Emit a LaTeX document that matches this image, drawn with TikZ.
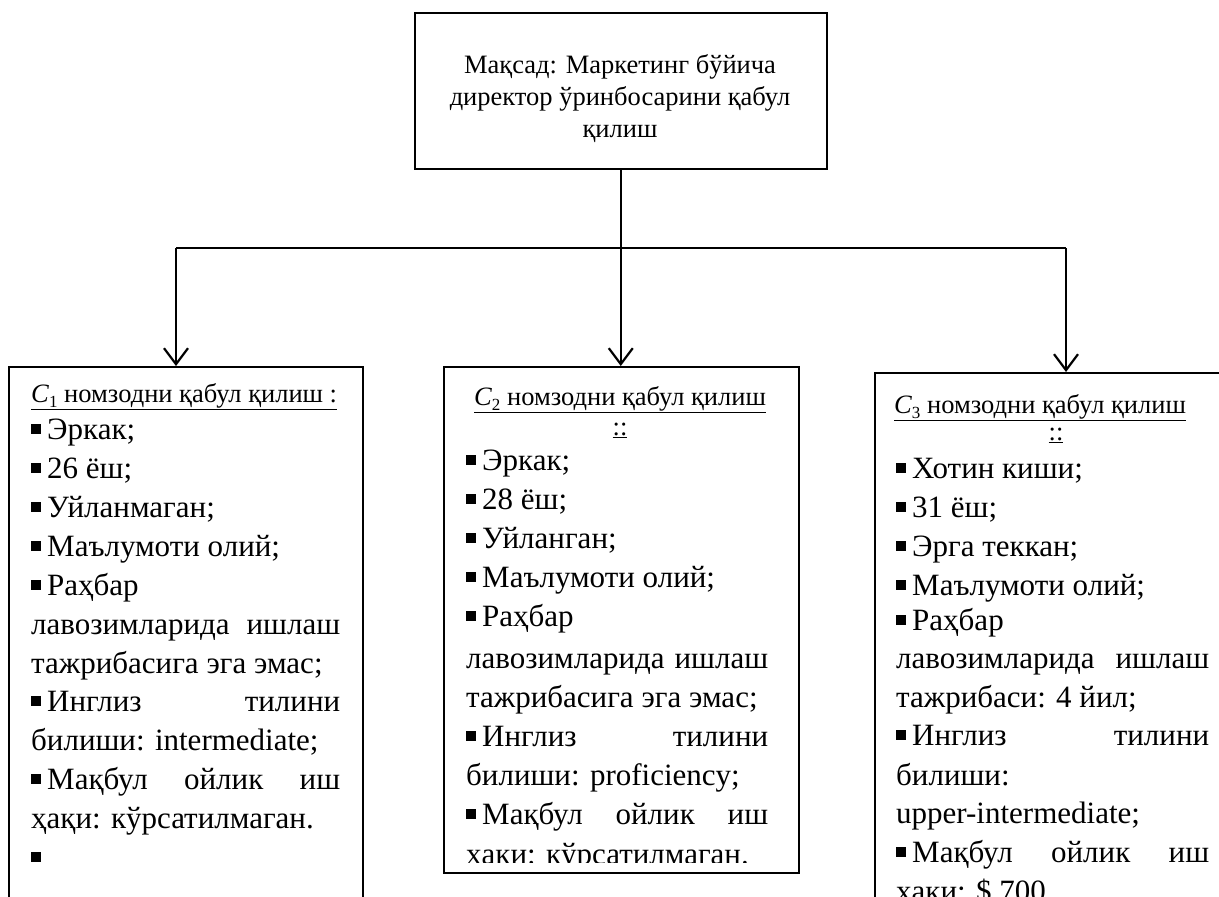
\documentclass[tikz,border=0pt]{standalone}
\usepackage{fontspec}
\setmainfont{Liberation Serif}
\usetikzlibrary{arrows.meta}
\newcommand{\bul}{\raisebox{5.5pt}{\rule{10pt}{10pt}}\hspace{6pt}}
\newcommand{\cand}[1]{\textit{C}\raisebox{-5pt}{\fontsize{17}{17}\selectfont #1}}
\begin{document}
\begin{tikzpicture}[x=1pt,y=-1pt,
  box/.style={draw, line width=2pt, inner sep=0, anchor=north west},
  goalbox/.style={draw, line width=1.5pt, inner sep=0, anchor=north west},
  gl/.style={anchor=base, inner sep=0, font=\fontsize{26.5}{32}\selectfont},
  ln/.style={anchor=base west, inner sep=0, font=\fontsize{31}{39}\selectfont},
  hd/.style={anchor=base, inner sep=0, font=\fontsize{26.5}{30}\selectfont},
  conn/.style={line width=2.5pt},
  hline/.style={line width=1.2pt},
  arr/.style={conn, -{Straight Barb[length=16pt,width=24pt,line width=2.2pt]}}]
\useasboundingbox (0,0) rectangle (1219,897);

% goal box
\node[goalbox, minimum width=412pt, minimum height=156pt] (goal) at (414,12) {};
\node[gl] (g1) at (620,73) {Мақсад: Маркетинг бўйича};
\node[gl] (g2) at (620,105) {директор ўринбосарини қабул};
\node[gl] (g3) at (620,137) {қилиш};

% candidate boxes
\node[box, minimum width=354pt, minimum height=580pt] (c1) at (8,366) {};
\node[box, minimum width=355pt, minimum height=506pt] (c2) at (443,366) {};
\node[box, minimum width=355pt, minimum height=580pt] (c3) at (874,372) {};

% connectors
\coordinate (h1) at (176,248);
\coordinate (h3) at (1066,248);
\draw[hline] (h1) -- (h3);
\draw[arr] (goal.south) -- (goal.south |- c2.north);
\draw[arr] (h1) -- (h1 |- c1.north);
\draw[arr] (h3) -- (h3 |- c3.north);

% box 1 text
\node[anchor=base west, inner sep=0, font=\fontsize{26.5}{30}\selectfont] (h1t) at (31,402) {\underline{\cand{1} номзодни қабул қилиш :}};
\node[ln] (a1) at (31,439) {\bul Эркак;};
\node[ln] (a2) at (31,478) {\bul 26 ёш;};
\node[ln] (a3) at (31,517) {\bul Уйланмаган;};
\node[ln] (a4) at (31,556) {\bul Маълумоти олий;};
\node[ln] (a5) at (31,595) {\bul Раҳбар};
\node[ln] (a6) at (31,634) {\hbox to 309pt{лавозимларида\hfill ишлаш}};
\node[ln] (a7) at (31,673) {тажрибасига эга эмас;};
\node[ln] (a8) at (31,711) {\hbox to 309pt{\bul Инглиз\hfill тилини}};
\node[ln] (a9) at (31,750) {билиши: intermediate;};
\node[ln] (a10) at (31,789) {\hbox to 309pt{\bul Мақбул\hfill ойлик\hfill иш}};
\node[ln] (a11) at (31,828) {ҳақи: кўрсатилмаган.};
\node[ln] (a12) at (31,867) {\bul};

% box 2 text
\node[hd] (h2t) at (620,405) {\underline{\cand{2} номзодни қабул қилиш}};
\node[hd] (h2c) at (620,435) {\underline{::}};
\begin{scope}
\clip (443,366) rectangle (798,862);
\node[ln] (b1) at (466,470) {\bul Эркак;};
\node[ln] (b2) at (466,509) {\bul 28 ёш;};
\node[ln] (b3) at (466,548) {\bul Уйланган;};
\node[ln] (b4) at (466,587) {\bul Маълумоти олий;};
\node[ln] (b5) at (466,626) {\bul Раҳбар};
\node[ln] (b6) at (466,668) {\hbox to 302pt{лавозимларида\hfill ишлаш}};
\node[ln] (b7) at (466,707) {тажрибасига эга эмас;};
\node[ln] (b8) at (466,746) {\hbox to 302pt{\bul Инглиз\hfill тилини}};
\node[ln] (b9) at (466,785) {билиши: proficiency;};
\node[ln] (b10) at (466,824) {\hbox to 302pt{\bul Мақбул\hfill ойлик\hfill иш}};
\node[ln] (b11) at (466,864) {ҳақи: кўрсатилмаган.};
\end{scope}

% box 3 text
\node[hd] (h3t) at (1040,413) {\underline{\cand{3} номзодни қабул қилиш}};
\node[hd] (h3c) at (1056,440) {\underline{::}};
\node[ln] (d1) at (896,478) {\bul Хотин киши;};
\node[ln] (d2) at (896,517) {\bul 31 ёш;};
\node[ln] (d3) at (896,556) {\bul Эрга теккан;};
\node[ln] (d4) at (896,595) {\bul Маълумоти олий;};
\node[ln] (d5) at (896,630) {\bul Раҳбар};
\node[ln] (d6) at (896,668) {\hbox to 313pt{лавозимларида\hfill ишлаш}};
\node[ln] (d7) at (896,707) {тажрибаси: 4 йил;};
\node[ln] (d8) at (896,745) {\hbox to 313pt{\bul Инглиз\hfill тилини}};
\node[ln] (d9) at (896,785) {билиши:};
\node[ln] (d10) at (896,823) {upper-intermediate;};
\node[ln] (d11) at (896,862) {\hbox to 313pt{\bul Мақбул\hfill ойлик\hfill иш}};
\node[ln] (d12) at (896,901) {ҳақи: \$ 700};
\end{tikzpicture}
\end{document}
